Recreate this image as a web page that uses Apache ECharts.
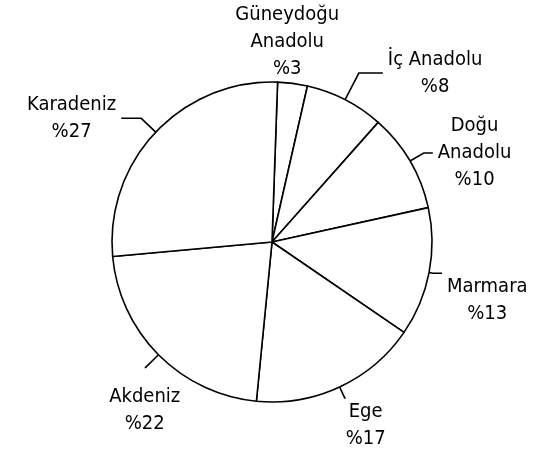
<!DOCTYPE html>
<html>
<head>
<meta charset="utf-8">
<script src="https://cdn.jsdelivr.net/npm/echarts@6/dist/echarts.min.js"></script>
<style>
  html, body { margin: 0; padding: 0; background: #fff; }
  #chart { width: 554px; height: 457px; }
</style>
</head>
<body>
<div id="chart"></div>
<script>
// Regional shares (%)
const regions = ['Güneydoğu Anadolu', 'İç Anadolu', 'Doğu Anadolu', 'Marmara', 'Ege', 'Akdeniz', 'Karadeniz'];
const shares = [3, 8, 10, 13, 17, 22, 27];
const labelRows = [['Güneydoğu', 'Anadolu'], ['İç Anadolu'], ['Doğu', 'Anadolu'], ['Marmara'], ['Ege'], ['Akdeniz'], ['Karadeniz']];

// Leader line lengths and text anchoring for each region's label
const placement = [
  { len: 1, len2: 1, gap: 0, line: false, align: 'center', vAlign: 'bottom', pad: [0, 13, 0, 0] },
  { len: 30, len2: 24, gap: 5 },
  { len: 16, len2: 9, gap: 5 },
  { len: 4, len2: 9, gap: 5, vAlign: 'top' },
  { len: 12, len2: 1, gap: 0, vAlign: 'top' },
  { len: 18, len2: 1, gap: 0, align: 'center', vAlign: 'top', pad: [16, 0, 0, 0] },
  { len: 20, len2: 20, gap: 5 }
];

const FONT = '"DejaVu Sans Condensed", "Liberation Sans Narrow", "DejaVu Sans", sans-serif';

const chart = echarts.init(document.getElementById('chart'), null, { renderer: 'canvas' });

const data = regions.map((name, i) => ({
  name: name,
  value: shares[i],
  label: {
    distanceToLabelLine: placement[i].gap,
    padding: placement[i].pad || 0
  },
  labelLine: {
    show: placement[i].line !== false,
    length: placement[i].len,
    length2: placement[i].len2
  }
}));

chart.setOption({
  animation: false,
  backgroundColor: '#fff',
  series: [{
    type: 'pie',
    center: [272, 242],
    radius: 160,
    startAngle: 88,
    clockwise: true,
    avoidLabelOverlap: false,
    silent: true,
    itemStyle: { color: '#fff', borderColor: '#000', borderWidth: 1.6 },
    label: {
      show: true,
      position: 'outside',
      color: '#000',
      formatter: (p) => {
        const rows = labelRows[p.dataIndex].concat(['%' + p.value]);
        return rows.map(r => '{t|' + r + '}').join('\n');
      },
      rich: {
        t: { align: 'center', fontSize: 20, lineHeight: 27, fontFamily: FONT, color: '#000' }
      }
    },
    labelLine: {
      show: true,
      lineStyle: { color: '#000', width: 1.6 }
    },
    labelLayout: (params) => {
      const p = placement[params.dataIndex];
      const out = {};
      if (p.align) out.align = p.align;
      if (p.vAlign) out.verticalAlign = p.vAlign;
      return out;
    },
    data: data
  }]
});
</script>
</body>
</html>
